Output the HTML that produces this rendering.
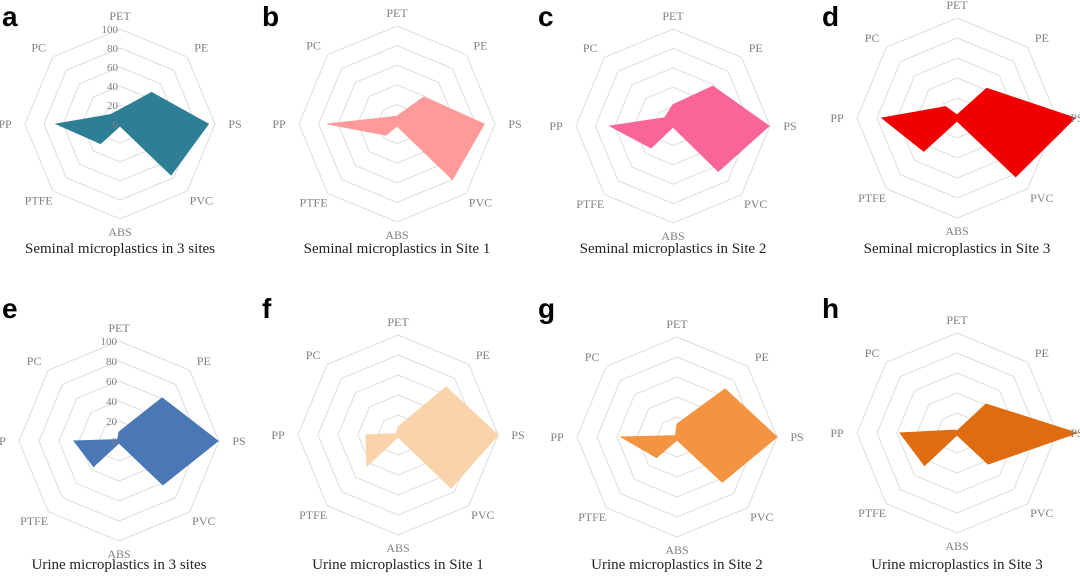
<!DOCTYPE html>
<html><head><meta charset="utf-8"><style>
body{margin:0;background:#fff;}
svg{display:block;}
.ax{font-family:"Liberation Serif",serif;font-size:12px;fill:#7f7f7f;}
.tk{font-family:"Liberation Serif",serif;font-size:11px;fill:#7f7f7f;}
.tt{font-family:"Liberation Serif",serif;font-size:15px;fill:#222;}
.lt{font-family:"Liberation Sans",sans-serif;font-size:28px;font-weight:bold;fill:#000;}
</style></head><body>
<svg id="fig" width="1080" height="579" viewBox="0 0 1080 579"></svg>
<script>
const categories = ["PET","PE","PS","PVC","ABS","PTFE","PP","PC"];
const ticks = [0,20,40,60,80,100];
const seminalAll = [15,47,93,76,2,29,67,14];
const seminalSite1 = [8,39,89,80,2,16,71,10];
const seminalSite2 = [22,58,99,66,1,32,65,12];
const seminalSite3 = [3,42,118,83,3,47,75,16];
const urineAll = [9,61,99,62,2,36,45,2];
const urineSite1 = [8,68,100,75,2,44,32,2];
const urineSite2 = [13,68,100,64,3,29,56,2];
const urineSite3 = [2,41,120,44,2,46,57,4];
const titles = ["Seminal microplastics  in 3 sites","Seminal microplastics  in Site 1","Seminal microplastics  in Site 2","Seminal microplastics  in Site 3","Urine microplastics  in 3 sites","Urine microplastics  in Site 1","Urine microplastics  in Site 2","Urine microplastics  in Site 3"];
const letters = ["a","b","c","d","e","f","g","h"];

const NS="http://www.w3.org/2000/svg";
const svg=document.getElementById('fig');
const panels=[
 {v:seminalAll,c:"#2e7f95",cx:120,cy:124,R:95,ticks:true,ty:253,lx:2,ly:26},
 {v:seminalSite1,c:"#ff9a99",cx:397,cy:124,R:98,ticks:false,ty:253,lx:262,ly:26},
 {v:seminalSite2,c:"#f96594",cx:673,cy:126,R:97,ticks:false,ty:253,lx:538,ly:26},
 {v:seminalSite3,c:"#f20000",cx:957,cy:118,R:100,ticks:false,ty:253,lx:822,ly:26},
 {v:urineAll,c:"#4a78b5",cx:119,cy:441,R:100,ticks:true,ty:569,lx:2,ly:318},
 {v:urineSite1,c:"#fbd3aa",cx:398,cy:435,R:100,ticks:false,ty:569,lx:262,ly:318},
 {v:urineSite2,c:"#f39440",cx:677,cy:437,R:100,ticks:false,ty:569,lx:538,ly:318},
 {v:urineSite3,c:"#e06c12",cx:957,cy:433,R:100,ticks:false,ty:569,lx:822,ly:318}
];
function mk(t,a,p){const e=document.createElementNS(NS,t);for(const k in a)e.setAttribute(k,a[k]);(p||svg).appendChild(e);return e;}
panels.forEach((p,i)=>{
  const g=mk('g',{});
  
  
  const ang=k=>-Math.PI/2+k*Math.PI/4;
  const pt=(k,val)=>{const r=p.R*val/100;return [p.cx+r*Math.cos(ang(k)),p.cy+r*Math.sin(ang(k))];};
  ticks.slice(1).forEach(t=>{
    const pts=categories.map((c,k)=>pt(k,t).join(',')).join(' ');
    const r=mk('polygon',{points:pts,fill:'none',stroke:'#dcdcdc','stroke-width':1},g);
    
    
  });
  const poly=mk('polygon',{points:p.v.map((val,k)=>pt(k,val).join(',')).join(' '),fill:p.c,stroke:p.c,'stroke-width':1},g);
  
  
  categories.forEach((c,k)=>{
    const [x,y]=pt(k,100);const a=ang(k);
    const dx=Math.cos(a),dy=Math.sin(a);
    const lx=x+dx*20, ly=y+dy*13+4;
    const t=mk('text',{x:lx,y:ly,'text-anchor':'middle',class:'ax'},g);
    t.textContent=c;
    
    
  });
  if(p.ticks){
    ticks.forEach(t=>{
      const [x,y]=pt(0,t);
      const e=mk('text',{x:x-2,y:y+4,'text-anchor':'end',class:'tk'},g);
      e.textContent=t;
      
      
    });
  }
  const tt=mk('text',{x:p.cx,y:p.ty,'text-anchor':'middle',class:'tt'},g);
  tt.textContent=titles[i];
  
  
  const lt=mk('text',{x:p.lx,y:p.ly,class:'lt'},g);
  lt.textContent=letters[i];
  
  
});
</script>
</body></html>
